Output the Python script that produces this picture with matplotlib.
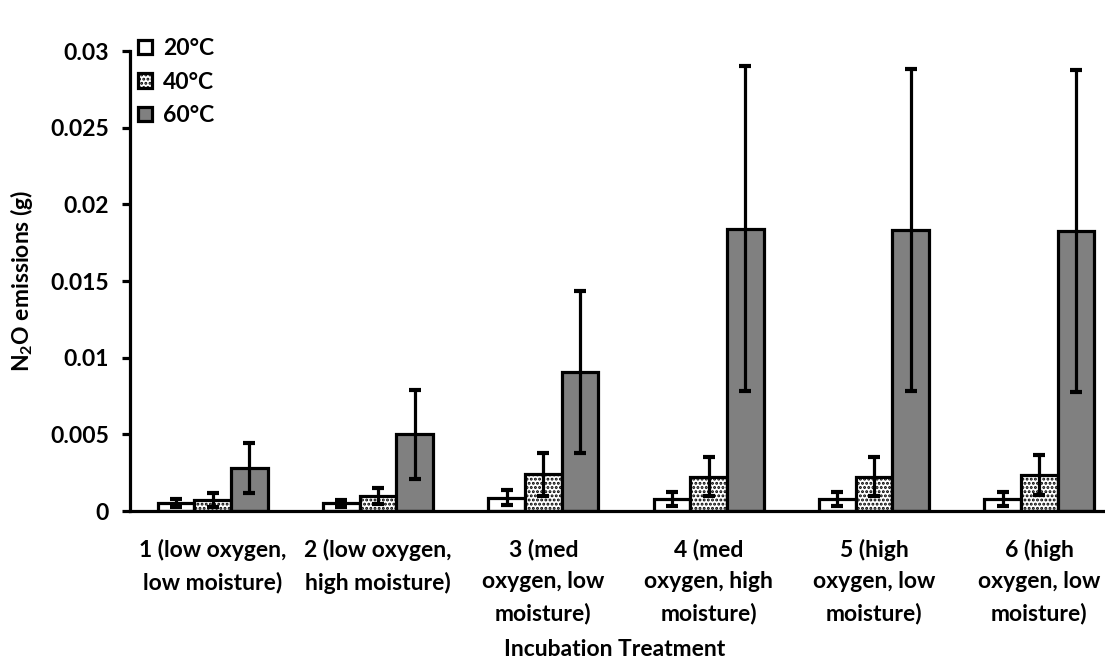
import matplotlib
matplotlib.use("Agg")
import matplotlib.pyplot as plt
import numpy as np
from matplotlib.patches import Patch

plt.rcParams['font.family'] = ['Lato', 'DejaVu Sans']
plt.rcParams['font.weight'] = 'bold'
plt.rcParams['mathtext.fontset'] = 'custom'
plt.rcParams['mathtext.rm'] = 'Lato:bold'
plt.rcParams['mathtext.bf'] = 'Lato:bold'
plt.rcParams['hatch.linewidth'] = 1.4
plt.rcParams['hatch.color'] = 'black'

# incubation treatments
treatments = ["1 (low oxygen,\nlow moisture)",
              "2 (low oxygen,\nhigh moisture)",
              "3 (med\noxygen, low\nmoisture)",
              "4 (med\noxygen, high\nmoisture)",
              "5 (high\noxygen, low\nmoisture)",
              "6 (high\noxygen, low\nmoisture)"]
temps = ["20°C", "40°C", "60°C"]

# mean N2O emissions (g) per temperature
n2o_20 = [0.0005, 0.0005, 0.00087, 0.00077, 0.00078, 0.00078]
n2o_40 = [0.00072, 0.00098, 0.0024, 0.00223, 0.00223, 0.00234]
n2o_60 = [0.00282, 0.0050, 0.00906, 0.0184, 0.0183, 0.01824]

# standard error
se_20 = [0.00027, 0.00022, 0.0005, 0.00047, 0.00047, 0.00047]
se_40 = [0.00047, 0.0005, 0.0014, 0.00128, 0.00128, 0.0013]
se_60 = [0.00163, 0.0029, 0.0053, 0.0106, 0.0105, 0.0105]

FS = 16.5
x = np.arange(len(treatments))
w = 1 / 4.5

fig = plt.figure(figsize=(11.05, 6.64), dpi=100)
ax = fig.add_axes([130 / 1105, 1 - 511 / 664, 992 / 1105, 460 / 664])

styles = [dict(facecolor='white', hatch=None),
          dict(facecolor='white', hatch='....'),
          dict(facecolor='#808080', hatch=None)]
means = [n2o_20, n2o_40, n2o_60]
errs = [se_20, se_40, se_60]

for i in range(3):
    pos = x + (i - 1) * w
    ax.bar(pos, means[i], width=w, edgecolor='black', linewidth=2.3,
           zorder=2, **styles[i])
    ax.errorbar(pos, means[i], yerr=errs[i], fmt='none', ecolor='black',
                elinewidth=2.3, capsize=4.3, capthick=3, zorder=3)

ax.set_xlim(-0.5, len(treatments) - 0.5)
ax.set_ylim(0, 0.03)
ax.set_yticks([0, 0.005, 0.01, 0.015, 0.02, 0.025, 0.03])
ax.set_yticklabels(['0', '0.005', '0.01', '0.015', '0.02', '0.025', '0.03'])
ax.set_xticks(x)
ax.set_xticklabels(treatments, linespacing=1.6)

ax.spines['top'].set_visible(False)
ax.spines['right'].set_visible(False)
ax.spines['left'].set_linewidth(2.3)
ax.spines['bottom'].set_linewidth(2.3)
ax.tick_params(axis='y', length=6, width=2.3, pad=9, labelsize=FS)
ax.tick_params(axis='x', length=0, pad=20, labelsize=FS)

fig.text(22 / 1105, 1 - 281 / 664, r'N$_{\mathbf{2}}$O emissions (g)',
         rotation=90, ha='center', va='center', fontsize=FS)
fig.text(615 / 1105, 1 - 649 / 664, 'Incubation Treatment',
         ha='center', va='center', fontsize=FS)

handles = [Patch(edgecolor='black', linewidth=2.3, **s) for s in styles]
ax.legend(handles, temps, loc='upper left', bbox_to_anchor=(-0.008, 1.063),
          frameon=False, fontsize=FS, handlelength=0.6, handleheight=0.6,
          handletextpad=0.5, labelspacing=0.55, borderaxespad=0.3)

fig.savefig('out.png', dpi=100)
